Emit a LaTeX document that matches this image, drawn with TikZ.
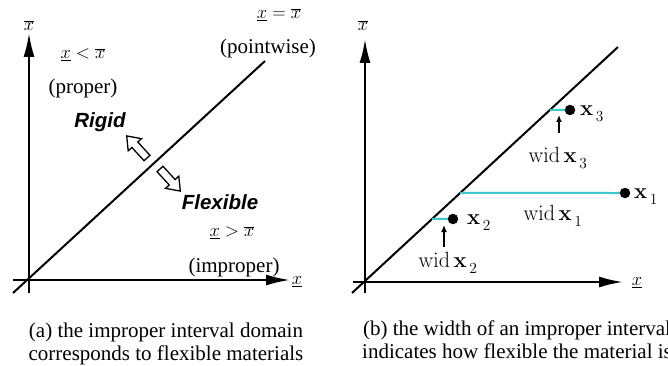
\RequirePackage{fix-cm}
\documentclass[tikz,border=0pt]{standalone}
\usepackage[no-math]{fontspec}
\setmainfont{Liberation Serif}
\newfontfamily\helv{Liberation Sans}
\usetikzlibrary{arrows.meta}
\definecolor{wcyan}{RGB}{60,200,205}
\newcommand\sbx[1]{\mathbf{x}_{\lower2.5pt\hbox{$\scriptstyle\,#1$}}}
\begin{document}
\begin{tikzpicture}[x=1pt,y=-1pt,
  axis/.style={line width=2.2pt,-{Latex[length=24pt,width=11pt]}},
  diag/.style={line width=2pt},
  txt/.style={font=\fontsize{21}{23}\selectfont,inner sep=0pt},
  mlab/.style={font=\fontsize{18.5}{21}\selectfont,inner sep=0pt},
  blab/.style={font=\fontsize{22}{25}\selectfont,inner sep=0pt},
  ital/.style={font=\helv\bfseries\itshape\fontsize{20.5}{24}\selectfont,inner sep=0pt},
  blockarrow/.style={draw,line width=1.3pt,fill=white,line join=miter},
  wline/.style={line width=2pt,draw=wcyan},
  dot/.style={circle,fill=black,minimum size=10.5pt,inner sep=0pt},
  warrow/.style={line width=1.4pt,-{Latex[length=7pt,width=6pt]}},
  captext/.style={font=\fontsize{21}{23}\selectfont,inner sep=0pt,align=center}
]
\useasboundingbox (0,0) rectangle (668,366);

% ---------- panel (a) ----------
\coordinate (ay0) at (29,293);
\coordinate (ay1) at (29,33);
\coordinate (ax0) at (13,280);
\coordinate (ax1) at (290,280);
\coordinate (da1) at (13,293);
\coordinate (da2) at (265,61);
\draw[axis] (ay0) -- (ay1);
\draw[axis] (ax0) -- (ax1);
\draw[diag] (da1) -- (da2);

\node[mlab] (ya) at (29,26) {$\overline{x}$};
\node[mlab] (xa) at (297,282) {$\underline{x}$};
\node[mlab] (lt) at (83,55) {$\underline{x} < \overline{x}$};
\node[txt] (prop) at (83,88) {(proper)};
\node[mlab] (eq) at (279,15) {$\underline{x} = \overline{x}$};
\node[txt] (pw) at (268,48) {(pointwise)};
\node[ital] (rig) at (100,122) {Rigid};
\node[ital] (flex) at (220,202) {Flexible};
\node[mlab] (gt) at (232,233) {$\underline{x} > \overline{x}$};
\node[txt] (imp) at (234,267) {(improper)};

\draw[blockarrow,shift={(147,158)},rotate=132.6]
  (0,-4) -- (18,-4) -- (18,-9) -- (30,0) -- (18,9) -- (18,4) -- (0,4) -- cycle;
\draw[blockarrow,shift={(160,169)},rotate=-47.4]
  (0,-4) -- (18,-4) -- (18,-9) -- (30,0) -- (18,9) -- (18,4) -- (0,4) -- cycle;

% ---------- panel (b) ----------
\coordinate (by0) at (365,293);
\coordinate (by1) at (365,39);
\coordinate (bx0) at (353,282);
\coordinate (bx1) at (623,282);
\coordinate (db1) at (352,293);
\coordinate (db2) at (618,47);
\draw[axis] (by0) -- (by1);
\draw[axis] (bx0) -- (bx1);
\draw[diag] (db1) -- (db2);

\node[mlab] (yb) at (363,26) {$\overline{x}$};
\node[mlab] (xb) at (637,283) {$\underline{x}$};

\coordinate (X1) at (625,193);
\coordinate (X1l) at (400,193);
\coordinate (X2) at (453,219);
\coordinate (X2l) at (400,219);
\coordinate (X3) at (570,110);
\coordinate (X3l) at (500,110);

\draw[wline] (intersection of db1--db2 and X1--X1l) -- (X1);
\draw[wline] (intersection of db1--db2 and X2--X2l) -- (X2);
\draw[wline] (intersection of db1--db2 and X3--X3l) -- (X3);

\node[dot] (d1) at (X1) {};
\node[dot] (d2) at (X2) {};
\node[dot] (d3) at (X3) {};

\node[blab,anchor=west] (l1) at (634,197) {$\sbx{1}$};
\node[blab,anchor=west] (l2) at (467,223) {$\sbx{2}$};
\node[blab,anchor=west] (l3) at (580,114) {$\sbx{3}$};

\node[blab] (w1) at (553,216) {$\mathrm{wid}\,\sbx{1}$};
\node[blab] (w2) at (448,263) {$\mathrm{wid}\,\sbx{2}$};
\node[blab] (w3) at (558,158) {$\mathrm{wid}\,\sbx{3}$};

\coordinate (t2) at (444,225);
\coordinate (s2) at (444,247);
\coordinate (t3) at (559,115);
\coordinate (s3) at (559,133);
\draw[warrow] (s2) -- (t2);
\draw[warrow] (s3) -- (t3);

% ---------- captions ----------
\node[captext] (capa) at (166,343.5) {(a) the improper interval domain\\corresponds to flexible materials};
\node[captext] (capb) at (517,340) {(b) the width of an improper interval\\indicates how flexible the material is};
\end{tikzpicture}
\end{document}
